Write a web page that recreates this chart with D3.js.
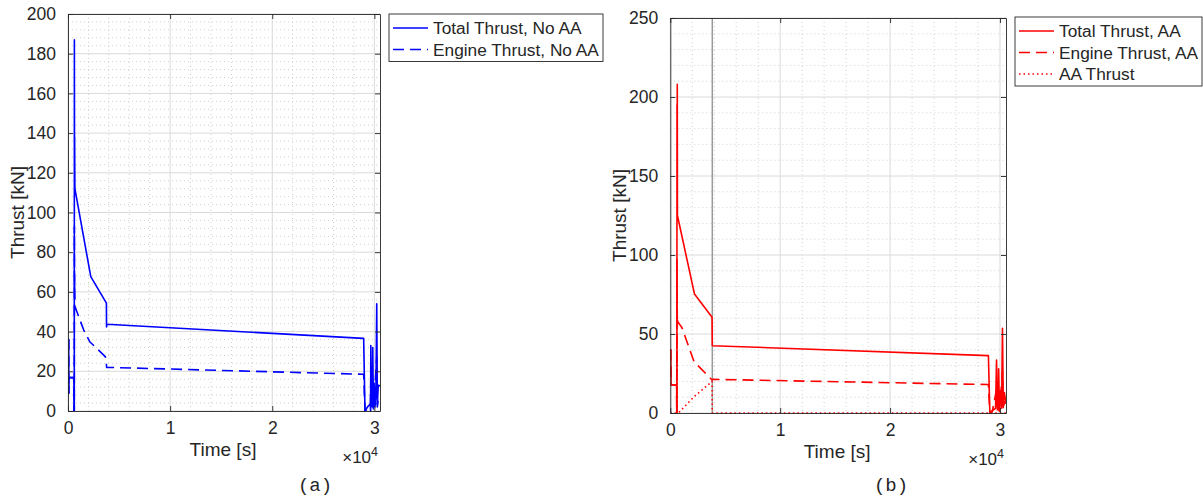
<!DOCTYPE html>
<html>
<head>
<meta charset="utf-8">
<script src="https://cdn.jsdelivr.net/npm/d3@7"></script>
<style>
body { margin: 0; background: #fff; }
svg text { font-family: "Liberation Sans", Arial, Helvetica, sans-serif; fill: #262626; }
</style>
</head>
<body>
<svg id="chart" width="1203" height="497"></svg>
<script>
// [time s, thrust kN]
const totalNoAA = [[0,36],[70,36],[80,9],[90,16.8],[580,16.8],[585,0],[615,0],[625,187],[640,120],[650,138],[660,125],[675,112],
  [2230,67.7],[3760,54.3],[3775,42.3],[3800,43.7],[28950,36.6],[29080,0],[29200,1],[29400,2.5],[29600,3.5],[29630,0],
  [29650,33],[29700,5],[29800,2],[29840,32],[29900,3],[29980,14],[30060,2],[30150,8],[30230,54],[30290,3],[30380,13],[30550,12.6]];
const engineNoAA = [[0,36],[70,36],[80,9],[90,16.8],[580,16.8],[585,0],[615,0],[625,93],[640,60],[650,69],[660,62],[690,52.5],
  [1540,40.8],[2130,34.9],[3650,27.4],[3760,24.8],[3775,22],[28950,18.5],[29080,0],[29300,1],[29600,2],[29650,15],
  [29700,2],[29840,16],[29900,1],[30000,7],[30230,27],[30290,2],[30400,7],[30550,6]];

const totalAA = [[0,40],[40,40],[55,28],[70,17.7],[580,17.7],[585,0],[600,0],[610,195],[620,160],[635,208],[650,125],
  [2200,75.3],[3800,60.6],[3822,42.6],[28950,36.3],[29080,0],[29300,1.5],[29600,3],[29690,33.5],[29760,3],[29850,2],
  [29880,28],[29950,3],[30050,14],[30150,3],[30230,53.6],[30300,4],[30400,13],[30550,6]];
const engineAA = [[0,40],[40,40],[55,28],[70,17.7],[580,17.7],[585,0],[600,0],[610,97],[620,80],[635,60],[645,62],[660,58],
  [1065,54],[2160,32.5],[3800,20.9],[3822,21.3],[28950,18],[29080,0],[29300,0.8],[29690,15],[29760,1],[29880,13],
  [29950,1],[30230,26],[30300,2],[30400,7],[30550,6]];
const thrustAA = [[0,0],[590,0],[605,0],[615,50],[630,0],[850,0.8],[2160,10.3],[3800,20],[3822,0],[30550,0]];

const xTicks = [0, 10000, 20000, 30000];
const xTickLabels = ["0", "1", "2", "3"];
const yTicksA = [0, 20, 40, 60, 80, 100, 120, 140, 160, 180, 200];
const yTicksB = [0, 50, 100, 150, 200, 250];
const markerTimes = [3822];

const svg = d3.select("#chart");

function drawPanel(p) {
  const x = d3.scaleLinear().domain([0, 30550]).range([p.left, p.right]);
  const y = d3.scaleLinear().domain([0, p.yMax]).range([p.bottom, p.top]);
  const g = svg.append("g");

  // minor grid
  const xMinor = d3.range(0, 30551, 2000).filter(v => v % 10000 !== 0);
  const yMinor = d3.range(0, p.yMax + 0.1, p.yMinor).filter(v => !p.yTicks.includes(v));
  g.selectAll(".mx").data(xMinor).enter().append("line")
    .attr("x1", d => x(d)).attr("x2", d => x(d)).attr("y1", p.top).attr("y2", p.bottom)
    .attr("stroke", "#c4c4c4").attr("stroke-width", 0.8).attr("stroke-dasharray", "1,3");
  g.selectAll(".my").data(yMinor).enter().append("line")
    .attr("x1", p.left).attr("x2", p.right).attr("y1", d => y(d)).attr("y2", d => y(d))
    .attr("stroke", "#c4c4c4").attr("stroke-width", 0.8).attr("stroke-dasharray", "1,3");
  // major grid
  g.selectAll(".gx").data(xTicks).enter().append("line")
    .attr("x1", d => x(d)).attr("x2", d => x(d)).attr("y1", p.top).attr("y2", p.bottom)
    .attr("stroke", "#dadada").attr("stroke-width", 1);
  g.selectAll(".gy").data(p.yTicks).enter().append("line")
    .attr("x1", p.left).attr("x2", p.right).attr("y1", d => y(d)).attr("y2", d => y(d))
    .attr("stroke", "#dadada").attr("stroke-width", 1);

  if (p.markers) {
    g.selectAll(".mk").data(p.markers).enter().append("line")
      .attr("x1", d => x(d)).attr("x2", d => x(d)).attr("y1", p.top).attr("y2", p.bottom)
      .attr("stroke", "#9a9a9a").attr("stroke-width", 1.5);
  }

  const clipId = "clip" + p.name;
  svg.append("clipPath").attr("id", clipId).append("rect")
    .attr("x", p.left).attr("y", p.top - 1).attr("width", p.right - p.left).attr("height", p.bottom - p.top + 2);

  const line = d3.line().x(d => x(d[0])).y(d => y(d[1]));
  p.series.forEach(s => {
    g.append("path").datum(s.data)
      .attr("clip-path", "url(#" + clipId + ")")
      .attr("d", line).attr("fill", "none")
      .attr("stroke", p.color).attr("stroke-width", 1.6)
      .attr("stroke-linejoin", "round")
      .attr("stroke-dasharray", s.dash);
  });

  // box + axes
  const ax = d3.axisBottom(x).tickValues(xTicks).tickFormat((d, i) => xTickLabels[i]).tickSizeInner(-5).tickSizeOuter(0).tickPadding(11);
  const axTop = d3.axisTop(x).tickValues(xTicks).tickFormat("").tickSizeInner(-5).tickSizeOuter(0);
  const ay = d3.axisLeft(y).tickValues(p.yTicks).tickSizeInner(-5).tickSizeOuter(0).tickPadding(12);
  const ayR = d3.axisRight(y).tickValues(p.yTicks).tickFormat("").tickSizeInner(-5).tickSizeOuter(0);

  [[ax, "translate(0," + p.bottom + ")"], [axTop, "translate(0," + p.top + ")"],
   [ay, "translate(" + p.left + ",0)"], [ayR, "translate(" + p.right + ",0)"]].forEach(([a, tr]) => {
    const ga = g.append("g").attr("transform", tr).call(a);
    ga.select(".domain").attr("stroke", "#262626").attr("stroke-width", 0.9);
    ga.selectAll(".tick line").attr("stroke", "#262626").attr("stroke-width", 0.9);
    ga.selectAll("text").attr("font-size", 17.5).attr("fill", "#262626")
      .style("font-family", "'Liberation Sans', Arial, sans-serif");
  });

  // labels
  g.append("text").attr("x", (p.left + p.right) / 2 - 1).attr("y", p.bottom + 45)
    .attr("text-anchor", "middle").attr("font-size", 19).text("Time [s]");
  g.append("text").attr("transform", "translate(" + p.ylabX + "," + ((p.top + p.bottom) / 2) + ") rotate(-90)")
    .attr("text-anchor", "middle").attr("font-size", 19).text("Thrust [kN]");
  const ex = g.append("text").attr("x", p.right - 2).attr("y", p.bottom + 52)
    .attr("text-anchor", "end").attr("font-size", 17);
  ex.append("tspan").text("\u00d710");
  ex.append("tspan").attr("font-size", 12.5).attr("dy", -7).text("4");
  g.append("text").attr("x", p.capX).attr("y", 491).attr("text-anchor", "middle")
    .attr("font-size", 19).style("font-family", "'Liberation Mono', 'Courier New', monospace")
    .text(p.caption);

  // legend
  const lg = g.append("g");
  lg.append("rect").attr("x", p.legX).attr("y", p.legY).attr("width", p.legW)
    .attr("height", p.legend.length * 21.5 + 4.5)
    .attr("fill", "#fff").attr("stroke", "#262626").attr("stroke-width", 0.9);
  p.legend.forEach((name, i) => {
    const cy = p.legY + 14 + i * 21.5;
    lg.append("line").attr("x1", p.legX + 4).attr("x2", p.legX + 39).attr("y1", cy).attr("y2", cy)
      .attr("stroke", p.color).attr("stroke-width", 1.6).attr("stroke-dasharray", p.series[i].dash);
    lg.append("text").attr("x", p.legX + 44).attr("y", cy + 6).attr("font-size", 17.3).text(name);
  });
}

drawPanel({
  name: "a", left: 68, right: 380, top: 14, bottom: 411, yMax: 200, yTicks: yTicksA, yMinor: 4,
  color: "#0000ff", ylabX: 24, capX: 315, caption: "(a)",
  series: [{ data: totalNoAA, dash: null }, { data: engineNoAA, dash: "11,6" }],
  legend: ["Total Thrust, No AA", "Engine Thrust, No AA"], legX: 389, legY: 14, legW: 214
});

drawPanel({
  name: "b", left: 670.3, right: 1006, top: 18, bottom: 413, yMax: 250, yTicks: yTicksB, yMinor: 10,
  color: "#ff0000", ylabX: 626, capX: 891, caption: "(b)", markers: markerTimes,
  series: [{ data: totalAA, dash: null }, { data: engineAA, dash: "11,6" }, { data: thrustAA, dash: "1.5,3" }],
  legend: ["Total Thrust, AA", "Engine Thrust, AA", "AA Thrust"], legX: 1015, legY: 17, legW: 187
});
</script>
</body>
</html>
